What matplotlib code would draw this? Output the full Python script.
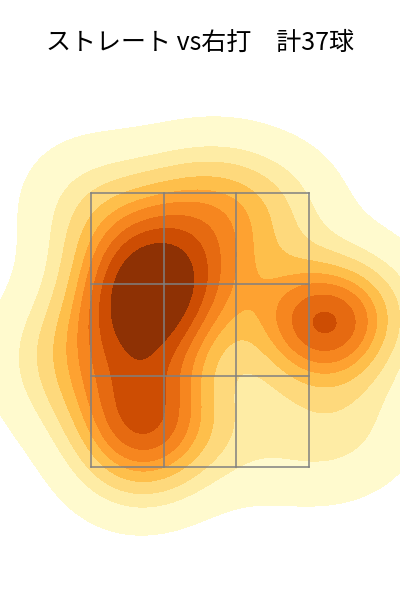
import numpy as np
import matplotlib
matplotlib.use('Agg')
import matplotlib.pyplot as plt
import seaborn as sns

# 投球位置 (ft) ストレート vs 右打者 37球
plate_x = [-0.52, -0.24, -0.50, -0.15, -0.38, -0.46, -0.29, -0.37, -0.34,
           -0.57, -0.27, -0.42, -0.38, -0.53, -0.31,
           -0.80, -0.76,
           0.00, -0.27,
           0.85, 0.96, 0.98, 0.82, 1.07, 0.92,
           0.38, 0.65, 0.23,
           -0.88, 0.11, 1.34, 1.26, -1.11, -0.53, 0.38, 0.92, -1.07]
plate_z = [2.99, 2.99, 2.83, 2.79, 2.72, 2.57, 2.54, 2.37, 2.87,
           1.93, 1.95, 1.84, 2.03, 1.70, 1.59,
           2.50, 3.23,
           3.34, 3.41,
           2.57, 2.46, 2.61, 2.41, 2.51, 2.66,
           3.34, 3.45, 2.94,
           3.52, 3.60, 2.72, 1.81, 2.39, 1.48, 1.70, 1.63, 2.10]

# ストライクゾーン
zone_x = [-0.83, 0.83]
zone_z = [1.5, 3.5]

title = 'ストレート vs右打\u3000計37球'

fig = plt.figure(figsize=(4, 6), dpi=100)
ax = fig.add_axes([0, 0, 1, 1])

sns.kdeplot(x=plate_x, y=plate_z, fill=True, cmap='YlOrBr', levels=10,
            thresh=0.05, ax=ax)

# ゾーンを3x3に分割
xs = np.linspace(zone_x[0], zone_x[1], 4)
zs = np.linspace(zone_z[0], zone_z[1], 4)
for x in xs:
    ax.plot([x, x], zone_z, color='gray', lw=1.1)
for z in zs:
    ax.plot(zone_x, [z, z], color='gray', lw=1.1)

ax.set_xlim(-1.527, 1.527)
ax.set_ylim(0.529, 4.909)
ax.axis('off')

fig.text(0.5, 1 - 43 / 600, title, ha='center', va='center', fontsize=18,
         family=['Noto Sans CJK JP', 'DejaVu Sans'])

fig.savefig('out.png', dpi=100)
